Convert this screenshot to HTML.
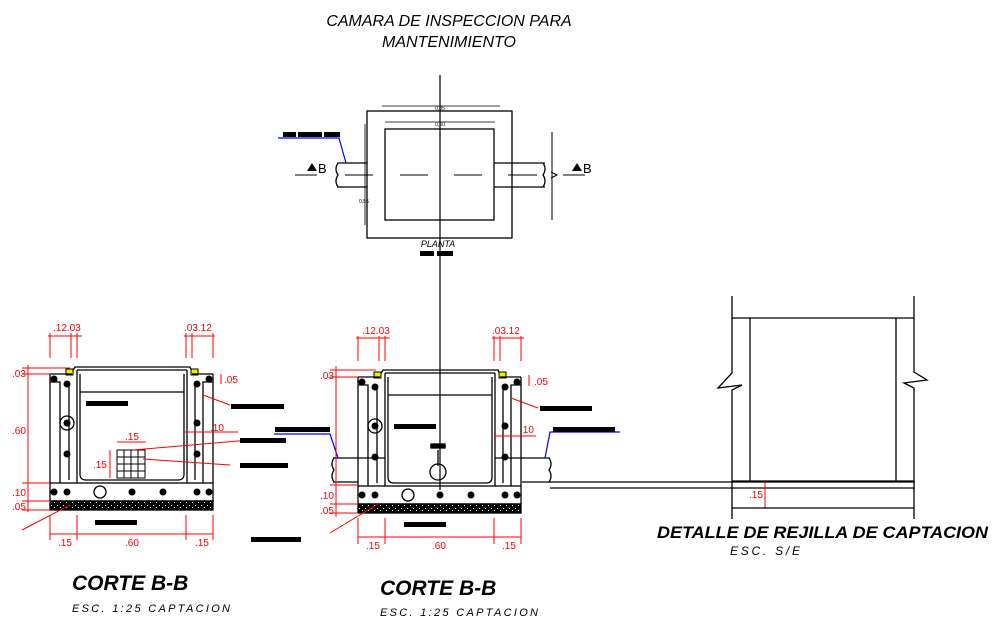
<!DOCTYPE html>
<html><head><meta charset="utf-8"><style>
html,body{margin:0;padding:0;background:#fff;}
svg{display:block;}
text{font-family:"Liberation Sans",sans-serif;}
.r{fill:#f00;font-size:10px;}
</style></head><body>
<svg width="1005" height="642" viewBox="0 0 1005 642" xmlns="http://www.w3.org/2000/svg">
<defs>
<pattern id="dots" width="6" height="5" patternUnits="userSpaceOnUse">
<rect width="6" height="5" fill="#000"/><rect x="1" y="1" width="1" height="1" fill="#fff"/><rect x="4" y="3" width="1" height="1" fill="#fff"/>
</pattern>
<g id="sec" fill="none" stroke="#000" stroke-width="1.3">
 <path d="M22,-2 L25,-7 L140,-7 L142,-2"/>
 <path d="M27,-4 H137"/>
 <rect x="16" y="-5" width="7" height="6" fill="#ee0" stroke="#000" stroke-width="1"/>
 <rect x="141" y="-5" width="7" height="6" fill="#ee0" stroke="#000" stroke-width="1"/>
 <path d="M0,0 H22 M0,0 V8 H10 V109 M0,8 V109 M27,-4 V109 M30,0 V100 Q30,106 36,106 H128 Q134,106 134,100 V0"/>
 <path d="M19,8 V106 M145,8 V106"/>
 <path d="M163,0 H142 M163,0 V8 H153 V109 M163,8 V109 M137,-4 V109"/>
 <path d="M30,18 H134"/>
 <rect x="0" y="109" width="163" height="18"/>
 <rect x="0" y="127" width="163" height="9" fill="url(#dots)"/>
 <g fill="#000" stroke="none">
  <circle cx="4" cy="5" r="3.5"/><circle cx="159" cy="5" r="3.5"/>
  <circle cx="17" cy="10" r="3.5"/><circle cx="147" cy="10" r="3.5"/>
  <circle cx="17" cy="49" r="3.5"/><circle cx="147" cy="49" r="3.5"/>
  <circle cx="17" cy="80" r="3.5"/><circle cx="147" cy="80" r="3.5"/>
  <circle cx="4" cy="118" r="3.5"/><circle cx="17" cy="118" r="3.5"/>
  <circle cx="82" cy="118" r="3.5"/><circle cx="113" cy="118" r="3.5"/>
  <circle cx="147" cy="118" r="3.5"/><circle cx="159" cy="118" r="3.5"/>
 </g>
 <circle cx="17" cy="49" r="7"/><circle cx="50" cy="118" r="6"/>
</g>
</defs>

<text x="449" y="26" font-size="16" font-style="italic" text-anchor="middle">CAMARA DE INSPECCION PARA</text>
<text x="449" y="47" font-size="16" font-style="italic" text-anchor="middle">MANTENIMIENTO</text>

<line x1="440" y1="75" x2="440" y2="490" stroke="#000" stroke-width="1.2"/>

<g fill="none" stroke="#000" stroke-width="1.3">
 <rect x="367" y="111" width="145" height="127"/>
 <rect x="385" y="129" width="109" height="91"/>
 <path d="M337,163 H367 M337,187 H367 M494,163 H545 M494,187 H545"/>
 <path d="M338,163 q-4,6 0,12 q-4,6 0,12 M543,163 q4,6 0,12 q4,6 0,12"/>
 <path d="M345,175 H373 M400,175 H428 M454,175 H482 M508,175 H537" stroke-width="1"/>
 <path d="M552,132 V220 M551,172 l6,3 -6,3" stroke-width="1"/>
 <path d="M382,106 H500 M385,122 H495 M365,124 V225" stroke-width="0.8"/>
 <path d="M295,175 H317 M563,175 H585" stroke-width="1"/>
</g>
<polygon points="307,171 312,163 317,171" fill="#000"/>
<text x="318" y="173" font-size="13">B</text>
<polygon points="572,171 577,163 582,171" fill="#000"/>
<text x="583" y="173" font-size="13">B</text>
<text x="440" y="110" font-size="5" text-anchor="middle">0,85</text>
<text x="440" y="126" font-size="5" text-anchor="middle">0,60</text>
<text x="359" y="203" font-size="5">0,55</text>
<path d="M278,138 H339 L346,163" fill="none" stroke="#00f" stroke-width="1.2"/>
<rect x="283" y="132" width="57" height="5" fill="#000"/>
<rect x="296" y="132" width="2" height="5" fill="#fff"/><rect x="322" y="132" width="2" height="5" fill="#fff"/>
<text x="438" y="247" font-size="9" font-style="italic" text-anchor="middle">PLANTA</text>
<rect x="420" y="251" width="33" height="5" fill="#000"/><rect x="434" y="251" width="3" height="5" fill="#fff"/>

<use href="#sec" x="50" y="374"/>
<g fill="none" stroke="#000" stroke-width="1">
 <rect x="117" y="450" width="28" height="28"/>
 <path d="M117,457 H145 M117,464 H145 M117,471 H145 M124,450 V478 M131,450 V478 M138,450 V478"/>
</g>
<use href="#sec" x="358" y="377"/>
<g fill="none" stroke="#000" stroke-width="1.3">
 <path d="M333,458 H385 M333,482 H358 M495,458 H550 M522,482 H915 M550,488 H915"/>
 <path d="M334,458 q-4,6 0,12 q-4,6 0,12 M549,458 q4,6 0,12 q4,6 0,12"/>
 <circle cx="438" cy="472" r="8"/><path d="M438,450 V466 M430,446 H446"/>
 <rect x="431" y="444" width="14" height="4" fill="#000"/>
</g>
<path d="M274,434 H330 L338,458 M620,432 H550 L545,458" fill="none" stroke="#00f" stroke-width="1.2"/>

<g stroke="#f00" stroke-width="1" fill="none">
 <path d="M50,333 V358 M71,333 V358 M77,333 V358 M48,336 H82"/>
 <path d="M186,333 V358 M192,333 V358 M213,333 V358 M184,336 H215"/>
 <path d="M28,365 V512 M22,368 H70 M22,374 H50 M22,483 H50 M22,501 H50 M22,510 H50"/>
 <path d="M50,515 V540 M77,515 V540 M186,515 V540 M213,515 V540 M50,534 H213"/>
 <path d="M221,374 V384 M185,432 H238 M117,442 H146 M110,450 V478 M22,530 L70,505 M133,450 L250,440 M143,459 L230,465 M203,395 L230,405"/>
 <path d="M358,336 V361 M379,336 V361 M385,336 V361 M356,338 H390"/>
 <path d="M494,336 V361 M500,336 V361 M521,336 V361 M492,338 H524"/>
 <path d="M336,366 V517 M330,370 H376 M330,377 H358 M330,485 H358 M330,504 H358 M330,513 H358"/>
 <path d="M358,518 V544 M385,518 V544 M494,518 V544 M521,518 V544 M358,537 H521"/>
 <path d="M529,375 V386 M494,436 H536 M330,533 L378,504 M511,398 L538,408"/>
 <path d="M746,481 H766 M746,508 H766 M765,481 V508"/>
</g>
<g class="r">
 <text x="53" y="331">.12.03</text><text x="184" y="331">.03.12</text>
 <text x="12" y="377">.03</text><text x="12" y="434">.60</text><text x="12" y="496">.10</text><text x="12" y="510">.05</text>
 <text x="58" y="546">.15</text><text x="125" y="546">.60</text><text x="195" y="546">.15</text>
 <text x="224" y="383">.05</text><text x="210" y="431">.10</text><text x="125" y="440">.15</text><text x="93" y="468">.15</text>
 <text x="362" y="334">.12.03</text><text x="492" y="334">.03.12</text>
 <text x="320" y="379">.03</text><text x="320" y="499">.10</text><text x="320" y="514">.05</text>
 <text x="366" y="549">.15</text><text x="432" y="549">.60</text><text x="502" y="549">.15</text>
 <text x="534" y="385">.05</text><text x="520" y="433">.10</text>
 <text x="749" y="498">.15</text>
</g>

<g fill="#000">
 <rect x="86" y="401" width="42" height="5"/><rect x="231" y="404" width="53" height="5"/>
 <rect x="240" y="438" width="46" height="5"/><rect x="240" y="463" width="48" height="5"/>
 <rect x="95" y="520" width="42" height="5"/><rect x="251" y="537" width="50" height="5"/>
 <rect x="394" y="424" width="42" height="5"/><rect x="540" y="406" width="52" height="5"/>
 <rect x="275" y="427" width="55" height="5"/><rect x="553" y="427" width="62" height="5"/>
 <rect x="404" y="522" width="42" height="5"/>
</g>

<g fill="none" stroke="#000" stroke-width="1.3">
 <path d="M732,296 V373 L718,388 L742,385 L732,390 V519"/>
 <path d="M914,296 V372 L927,380 L904,383 L914,388 V519"/>
 <path d="M732,318 H914 M750,318 V481 M896,318 V481 M732,481 H914 M732,508 H914"/>
</g>
<text x="657" y="538" font-size="17" font-weight="bold" font-style="italic" textLength="331" lengthAdjust="spacingAndGlyphs">DETALLE DE REJILLA DE CAPTACION</text>
<text x="730" y="555" font-size="12" font-style="italic" textLength="70" lengthAdjust="spacing">ESC.  S/E</text>

<text x="72" y="590" font-size="21" font-weight="bold" font-style="italic">CORTE B-B</text>
<text x="72" y="612" font-size="11" font-style="italic" textLength="158" lengthAdjust="spacing">ESC.  1:25  CAPTACION</text>
<text x="380" y="595" font-size="21" font-weight="bold" font-style="italic">CORTE B-B</text>
<text x="380" y="616" font-size="11" font-style="italic" textLength="158" lengthAdjust="spacing">ESC.  1:25  CAPTACION</text>
</svg>
</body></html>
